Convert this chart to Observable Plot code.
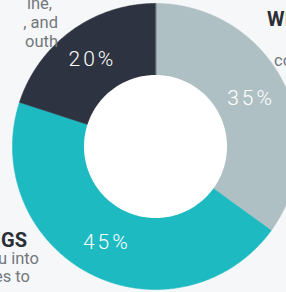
<!DOCTYPE html>
<html><head><meta charset="utf-8">
<script src="https://cdn.jsdelivr.net/npm/d3@7"></script>
<script src="https://cdn.jsdelivr.net/npm/@observablehq/plot@0.6"></script>
<style>
html,body{margin:0;padding:0;background:#f6f7f9;overflow:hidden;width:286px;height:292px;}
#wrap{position:relative;width:286px;height:292px;overflow:hidden;font-family:Roboto,"Open Sans",sans-serif;}
#wrap svg{position:absolute;left:0;top:0;}
#wrap g[aria-label="text"] text{letter-spacing:3px;}
</style></head><body><div id="wrap"></div>
<script>
// Chart data
const categories = ["Share A", "Share B", "Share C"];
const values = [35, 45, 20];
const labels = ["35%", "45%", "20%"];
const colors = ["#afc0c4", "#1ebac2", "#2d3340"];

// Cropped surrounding infographic text (layout only)
const fragments = [
  {t: "ine,", x: 52, y: 9, anchor: "end", kind: "body"},
  {t: ", and", x: 58, y: 28, anchor: "end", kind: "body"},
  {t: "outh", x: 58, y: 47, anchor: "end", kind: "body"},
  {t: "WI", x: 267, y: 26, anchor: "start", kind: "head"},
  {t: "co", x: 274, y: 66, anchor: "start", kind: "body"},
  {t: "IGS", x: 27, y: 247, anchor: "end", kind: "head"},
  {t: "u into", x: 39, y: 264, anchor: "end", kind: "body"},
  {t: "es to", x: 30, y: 282, anchor: "end", kind: "body"}
];

const W = 286, H = 292, CX = 155, CY = 146, RPX = 143;
const R = 1, R0 = 0.5, LR = 0.75;
const pt = (a, r) => [r * Math.sin(a), -r * Math.cos(a)];

const arcs = d3.pie().sort(null).value(d => d)(values);
const slices = arcs.map((p, i) => {
  const ring = [[0, 0]];
  const n = Math.max(2, Math.ceil((p.endAngle - p.startAngle) / 0.01));
  for (let k = 0; k <= n; k++) ring.push(pt(p.startAngle + (p.endAngle - p.startAngle) * k / n, R));
  ring.push([0, 0]);
  return {type: "Feature", properties: {name: categories[i]}, geometry: {type: "Polygon", coordinates: [ring]}};
});
const holeRing = [];
for (let k = 0; k <= 360; k++) holeRing.push(pt(k * Math.PI / 180, R0));
const hole = {type: "Feature", properties: {}, geometry: {type: "Polygon", coordinates: [holeRing]}};

const lbls = arcs.map((p, i) => {
  const [x, y] = pt((p.startAngle + p.endAngle) / 2, LR);
  return {x, y, label: labels[i]};
});

const x0 = -CX / RPX, x1 = (W - CX) / RPX, y0 = -CY / RPX, y1 = (H - CY) / RPX;
const frame = {type: "Polygon", coordinates: [[[x0, y0], [x1, y0], [x1, y1], [x0, y1], [x0, y0]]]};

const chart = Plot.plot({
  width: W, height: H, margin: 0,
  projection: {type: "identity", domain: frame},
  color: {domain: categories, range: colors},
  style: {background: "transparent", overflow: "hidden"},
  marks: [
    Plot.geo(slices, {fill: d => d.properties.name, stroke: d => d.properties.name, strokeWidth: 0.6}),
    Plot.geo([hole], {fill: "white"}),
    Plot.text(lbls, {x: "x", y: "y", text: "label", fill: "white", fontSize: 21, fontWeight: 300, fontFamily: "Roboto, sans-serif"})
  ]
});
const wrap = document.getElementById("wrap");
wrap.appendChild(chart);

const ns = "http://www.w3.org/2000/svg";
const ov = document.createElementNS(ns, "svg");
ov.setAttribute("width", W); ov.setAttribute("height", H);
ov.style.overflow = "hidden";
for (const f of fragments) {
  const t = document.createElementNS(ns, "text");
  t.setAttribute("x", f.x); t.setAttribute("y", f.y);
  t.setAttribute("text-anchor", f.anchor);
  t.setAttribute("font-family", "Roboto, sans-serif");
  if (f.kind === "head") { t.setAttribute("font-size", 20); t.setAttribute("font-weight", 700); t.setAttribute("fill", "#2a2e35"); }
  else { t.setAttribute("font-size", 16.5); t.setAttribute("fill", "#73777c"); }
  t.textContent = f.t;
  ov.appendChild(t);
}
wrap.appendChild(ov);
</script></body></html>
